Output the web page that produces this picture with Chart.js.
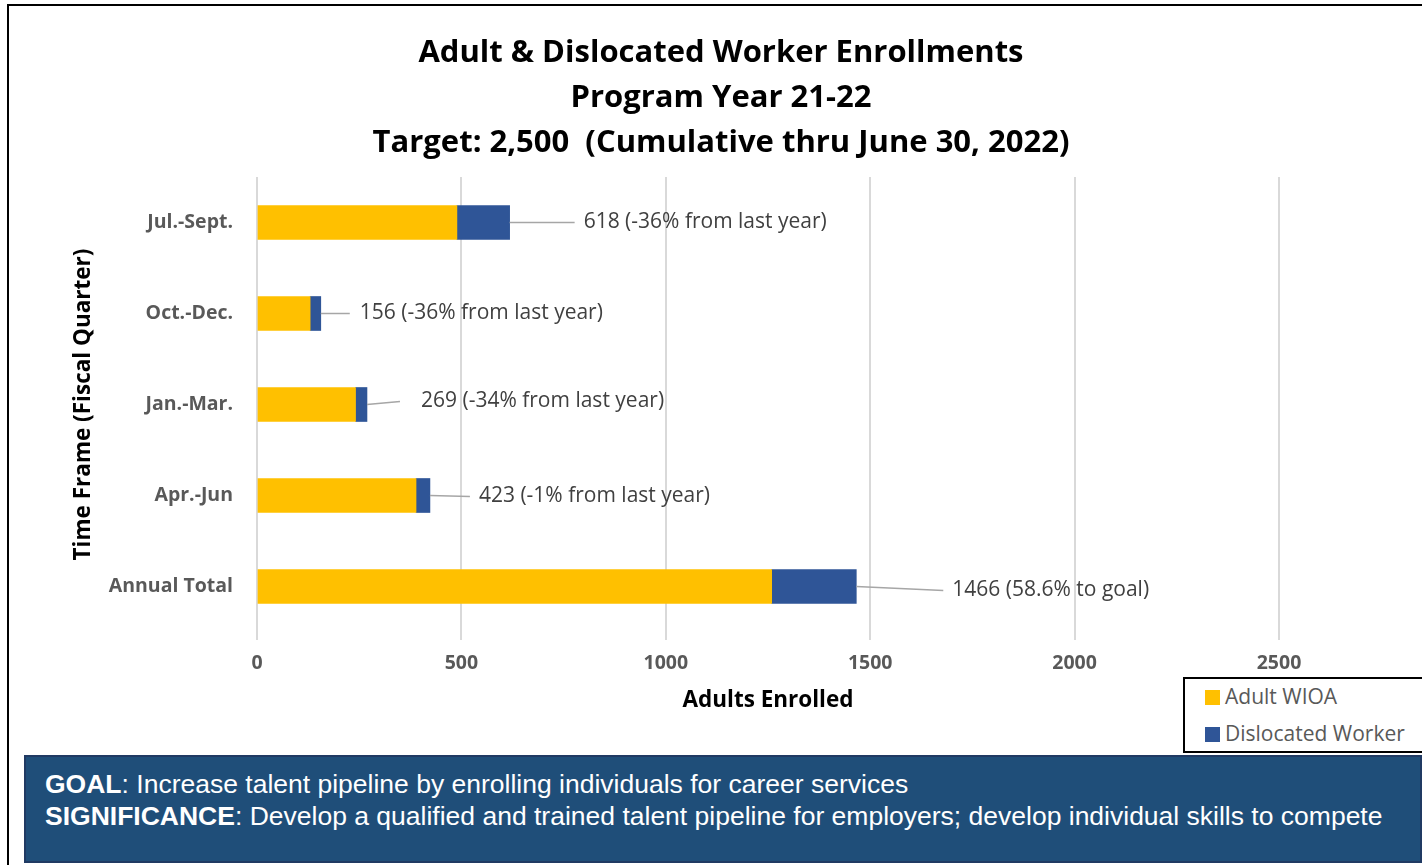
<!DOCTYPE html>
<html>
<head>
<meta charset="utf-8">
<script src="https://cdn.jsdelivr.net/npm/chart.js@4.4.1/dist/chart.umd.min.js"></script>
<style>
  html, body { margin: 0; padding: 0; background: #fff; overflow: hidden; }
  body { width: 1422px; height: 865px; position: relative; font-family: "Open Sans", sans-serif; }
  #frame { position: absolute; left: 7px; top: 4px; width: 1500px; height: 1000px; border: 2px solid #000; }
  #title { position: absolute; left: 0; top: 28px; width: 1442px; text-align: center;
           font: bold 31px/45px "Open Sans", sans-serif; color: #000; }
  #wrap { position: absolute; left: 0; top: 0; width: 1422px; height: 720px; }
  #legend { position: absolute; left: 1183px; top: 677px; width: 260px; height: 72px;
            border: 2px solid #000; background: #fff; }
  .item { position: absolute; left: 20px; font: 21px "Open Sans", sans-serif; color: #595959; white-space: nowrap; }
  .item i { display: inline-block; width: 15px; height: 15px; margin-right: 5px; vertical-align: -1px; }
  #goal { position: absolute; left: 24px; top: 755px; width: 1394px; height: 104px;
          background: #1f4e79; border: 2px solid #203a63; color: #fff;
          font: 26.5px/32px "Liberation Sans", Arial, sans-serif; }
  #goal div { position: absolute; left: 19px; top: 11px; white-space: nowrap; }
</style>
</head>
<body>
<div id="frame"></div>
<div id="wrap"><canvas id="chart"></canvas></div>
<div id="title">Adult &amp; Dislocated Worker Enrollments<br>Program Year 21-22<br>Target: 2,500&nbsp; (Cumulative thru June 30, 2022)</div>
<div id="legend"></div>
<div id="goal"><div><b>GOAL</b>: Increase talent pipeline by enrolling individuals for career services<br><b>SIGNIFICANCE</b>: Develop a qualified and trained talent pipeline for employers; develop individual skills to compete</div></div>
<script>
// quarters and enrollments
const quarters = ['Jul.-Sept.', 'Oct.-Dec.', 'Jan.-Mar.', 'Apr.-Jun', 'Annual Total'];
const adultWIOA = [489, 130, 241, 389, 1259];
const dislocatedWorker = [129, 26, 28, 34, 207];
const changeNotes = ['-36% from last year', '-36% from last year', '-34% from last year',
                     '-1% from last year', '58.6% to goal'];
const xTicks = [0, 500, 1000, 1500, 2000, 2500];

// where each callout sits relative to the end of its bar
const callouts = [
  { line: 65, text: 74, dy: 0 },
  { line: 29, text: 39, dy: 0 },
  { line: 33, text: 54, dy: -3 },
  { line: 40, text: 49, dy: 1 },
  { line: 87, text: 96, dy: 4 },
];

const calloutPlugin = {
  id: 'callouts',
  afterDatasetsDraw(chart) {
    const ctx = chart.ctx;
    const top = chart.getDatasetMeta(chart.data.datasets.length - 1);
    ctx.save();
    top.data.forEach((bar, i) => {
      const total = chart.data.datasets.reduce((s, d) => s + d.data[i], 0);
      const c = callouts[i];
      ctx.strokeStyle = '#a6a6a6';
      ctx.lineWidth = 1.5;
      ctx.beginPath();
      ctx.moveTo(bar.x, bar.y);
      ctx.lineTo(bar.x + c.line, bar.y + c.dy);
      ctx.stroke();
      ctx.fillStyle = '#404040';
      ctx.font = '21px "Open Sans", sans-serif';
      ctx.textBaseline = 'middle';
      ctx.textAlign = 'left';
      ctx.fillText(total + ' (' + changeNotes[i] + ')', bar.x + c.text, bar.y + c.dy);
    });
    ctx.restore();
  }
};

const chart = new Chart(document.getElementById('chart'), {
  type: 'bar',
  data: {
    labels: quarters,
    datasets: [
      { label: 'Adult WIOA', data: adultWIOA, backgroundColor: '#ffc000' },
      { label: 'Dislocated Worker', data: dislocatedWorker, backgroundColor: '#2f5597' }
    ]
  },
  options: {
    indexAxis: 'y',
    responsive: true,
    maintainAspectRatio: false,
    animation: false,
    barThickness: 34,
    layout: { padding: { top: 177, left: 60, right: 143, bottom: 0 } },
    plugins: {
      legend: { display: false },
      tooltip: { enabled: false }
    },
    scales: {
      x: {
        stacked: true,
        min: 0,
        max: 2500,
        afterBuildTicks: (s) => { s.ticks = xTicks.map(v => ({ value: v })); },
        afterFit: (s) => { s.height = 88; },
        grid: { color: '#d9d9d9', lineWidth: 2, drawTicks: true, tickLength: 8 },
        border: { display: false },
        ticks: {
          padding: 12, color: '#595959',
          font: { family: 'Open Sans', size: 19.5, weight: 'bold' },
          callback: (v) => String(v)
        },
        title: {
          display: true, text: 'Adults Enrolled', color: '#000',
          font: { family: 'Open Sans', size: 22.5, weight: 'bold' }, padding: { bottom: 6 }
        }
      },
      y: {
        stacked: true,
        afterFit: (s) => { s.width = 197; },
        grid: { display: false },
        border: { display: false },
        ticks: { padding: 16, color: '#595959', font: { family: 'Open Sans', size: 19.5, weight: 'bold' } },
        title: {
          display: true, text: 'Time Frame (Fiscal Quarter)', color: '#000',
          font: { family: 'Open Sans', size: 22.5, weight: 'bold' }, padding: { top: 10 }
        }
      }
    }
  },
  plugins: [calloutPlugin]
});

// legend box built from the chart's datasets
const legend = document.getElementById('legend');
chart.data.datasets.forEach((d, i) => {
  const row = document.createElement('div');
  row.className = 'item';
  row.style.top = (3 + i * 37) + 'px';
  row.innerHTML = '<i style="background:' + d.backgroundColor + '"></i>' + d.label;
  legend.appendChild(row);
});
</script>
</body>
</html>
